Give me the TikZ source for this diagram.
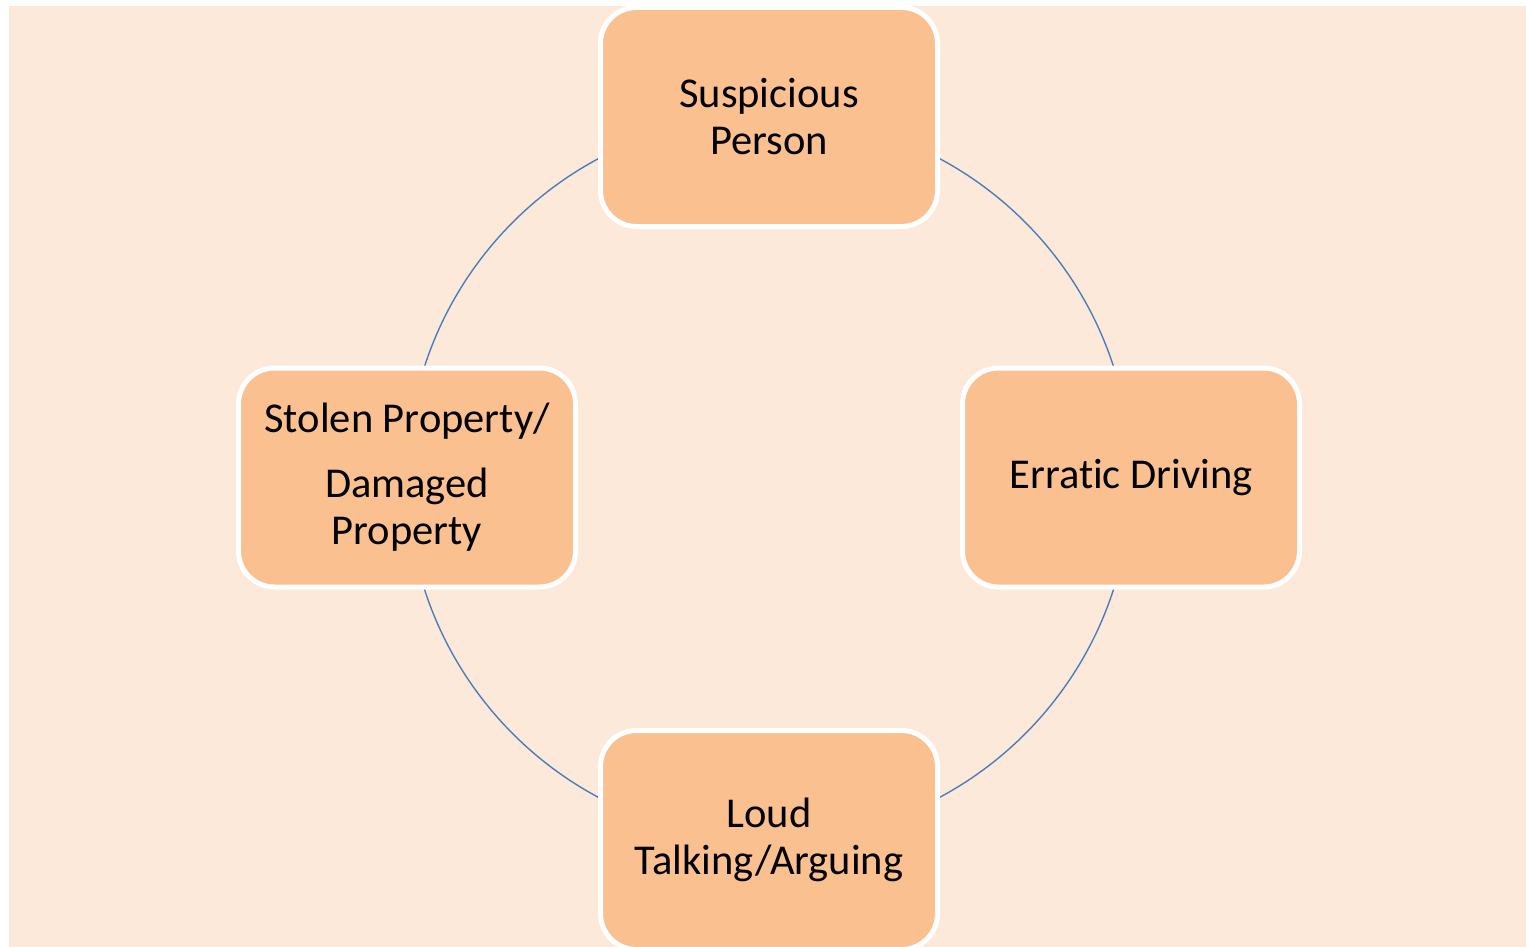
\documentclass[tikz,border=0pt]{standalone}
\usepackage{fontspec}
\setmainfont[Ligatures=NoCommon]{Carlito}
\definecolor{bgpeach}{HTML}{FDE9D9}
\definecolor{boxfill}{HTML}{FAC090}
\definecolor{ringblue}{HTML}{4A7EBB}
\begin{document}
\begin{tikzpicture}[x=1pt,y=-1pt,
  stepbox/.style={rectangle, rounded corners=36pt, fill=boxfill, draw=white,
    line width=5pt, minimum width=337pt, minimum height=219pt, align=center,
    font=\fontsize{42.5}{47}\selectfont, inner sep=0pt},
  ring/.style={draw=ringblue, line width=1.4pt}]
\useasboundingbox (0,0) rectangle (1526,947);
\fill[bgpeach] (9,6) rectangle (1526,947);
\coordinate (c) at (769,478);
\draw[ring] (c) circle[radius=362];
\node[stepbox] (sp) at (769,117) {Suspicious\\Person};
\node[stepbox] (ed) at (1131,477.5) {Erratic Driving};
\node[stepbox] (la) at (769,840) {Loud\\Talking/Arguing};
\node[stepbox] (sd) at (407,477.5) {Stolen Property/\\[18pt]Damaged\\Property};
\end{tikzpicture}
\end{document}
